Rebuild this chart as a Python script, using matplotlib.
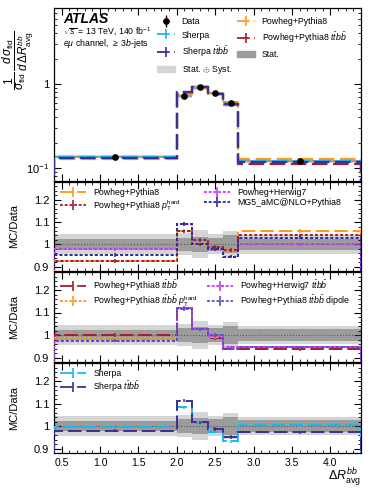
#!/usr/bin/env python3
"""
Delta R_avg^bb unfolded distribution with MC/Data ratio panels
"""
import numpy as np
import matplotlib
matplotlib.use('Agg')
import matplotlib.pyplot as plt
from matplotlib.lines import Line2D
from matplotlib.patches import Patch
from matplotlib.ticker import MultipleLocator, FixedLocator, NullFormatter, LogLocator

plt.rcParams['font.family'] = ['Liberation Sans', 'DejaVu Sans']
plt.rcParams['mathtext.fontset'] = 'custom'
plt.rcParams['mathtext.rm'] = 'Liberation Sans'
plt.rcParams['mathtext.it'] = 'Liberation Sans:italic'
plt.rcParams['mathtext.bf'] = 'Liberation Sans:bold'

# bins and data
edges = [0.4, 2.0, 2.2, 2.4, 2.6, 2.8, 4.4]
centers = [1.2, 2.1, 2.3, 2.5, 2.7, 3.6]
data = [0.136, 0.72, 0.91, 0.775, 0.60, 0.121]
data_err = [0.004, 0.02, 0.02, 0.02, 0.02, 0.004]
unc_tot = [0.045, 0.05, 0.063, 0.045, 0.058, 0.042]   # stat (+) syst, relative
unc_stat = [0.024, 0.03, 0.035, 0.03, 0.04, 0.025]     # stat only, relative

# main panel predictions
main_pp8 = [0.127, 0.765, 0.905, 0.765, 0.585, 0.128]
main_pp8_ttbb = [0.136, 0.805, 0.93, 0.76, 0.565, 0.113]
main_sherpa = [0.136, 0.78, 0.92, 0.755, 0.56, 0.122]
main_sherpa_ttbb = [0.133, 0.80, 0.925, 0.765, 0.57, 0.118]

# ratio panel 1
r_pp8 = [0.925, 1.06, 0.995, 0.98, 0.975, 1.06]
r_pp8_pthard = [0.925, 1.058, 1.02, 0.99, 0.975, 1.04]
r_ph7 = [0.977, 1.09, 1.0, 0.98, 0.945, 1.0]
r_mg5 = [0.953, 1.09, 1.0, 0.98, 0.945, 1.03]

# ratio panel 2
r_pp8_ttbb = [1.0, 1.12, 1.025, 0.985, 0.94, 0.937]
r_pp8_ttbb_pthard = [0.985, 1.12, 1.025, 0.99, 0.945, 0.945]
r_ph7_ttbb = [0.975, 1.12, 1.025, 0.995, 0.945, 0.945]
r_pp8_ttbb_dipole = [0.975, 1.115, 1.025, 1.0, 0.94, 0.945]

# ratio panel 3
r_sherpa = [0.997, 1.083, 1.013, 0.975, 0.932, 1.003]
r_sherpa_ttbb = [0.98, 1.113, 1.016, 0.987, 0.95, 0.972]

C_ORANGE = '#ff9a1a'
C_RED = '#a51c30'
C_CYAN = '#19b8f5'
C_NAVY = '#3d2f92'
C_MAG = '#c639ff'
C_SLATE = '#5a4fcf'
C_DOT_NAVY = '#2b2b9a'
LONG = (0, (7, 2.5))
DOT = (0, (1.6, 1.0))

TTBB = r'$t\bar{t}b\bar{b}$'

W, H = 374, 490
fig = plt.figure(figsize=(W / 100, H / 100), dpi=100)


def box(top, bottom):
    return [54 / W, 1 - bottom / H, (361 - 54) / W, (bottom - top) / H]


ax0 = fig.add_axes(box(8, 181))
ax1 = fig.add_axes(box(182, 271))
ax2 = fig.add_axes(box(272, 362))
ax3 = fig.add_axes(box(363, 453))


def style_x(ax, labels):
    ax.set_xlim(edges[0], edges[-1])
    ax.xaxis.set_major_locator(MultipleLocator(0.5))
    ax.xaxis.set_minor_locator(MultipleLocator(0.1))
    ax.tick_params(which='both', direction='in', top=True, right=True, labelsize=7.5)
    ax.tick_params(which='major', length=5, width=0.8)
    ax.tick_params(which='minor', length=2.5, width=0.6)
    if not labels:
        ax.xaxis.set_major_formatter(NullFormatter())
    for s in ax.spines.values():
        s.set_linewidth(0.9)


def bands(ax, ref):
    e = np.array(ref)
    tot = np.array(unc_tot)
    st = np.array(unc_stat)
    ax.stairs(e * (1 + tot), edges, baseline=e * (1 - tot), fill=True,
              color='#d5d5d5', lw=0, zorder=1)
    ax.stairs(e * (1 + st), edges, baseline=e * (1 - st), fill=True,
              color='#9c9c9c', lw=0, zorder=1.5)


def mc(ax, vals, color, ls, lw=1.4, err=0.006, scale=None):
    ax.stairs(vals, edges, color=color, ls=ls, lw=lw, zorder=3)
    v = np.array(vals)
    e = err * (v if scale else 1)
    ax.errorbar(centers, vals, yerr=e, fmt='none', ecolor=color, elinewidth=1.1, zorder=3)


def handle(color, ls):
    return (Line2D([], [], color=color, ls=ls, lw=1.3),
            Line2D([], [], color=color, marker='|', ls='none', ms=7, mew=1.2))


# main panel
bands(ax0, data)
mc(ax0, main_pp8, C_ORANGE, LONG, lw=1.6, err=0.01, scale=True)
mc(ax0, main_pp8_ttbb, C_RED, LONG, lw=1.6, err=0.01, scale=True)
mc(ax0, main_sherpa, C_CYAN, LONG, lw=1.6, err=0.01, scale=True)
mc(ax0, main_sherpa_ttbb, C_NAVY, LONG, lw=1.6, err=0.01, scale=True)
ax0.errorbar(centers, data, yerr=data_err, fmt='o', color='black', ms=3.8,
             elinewidth=1, zorder=5)
ax0.set_yscale('log')
ax0.set_ylim(0.07, 8)
style_x(ax0, False)
ax0.yaxis.set_major_locator(FixedLocator([0.1, 1]))
ax0.yaxis.set_major_formatter(plt.FuncFormatter(lambda v, p: '1' if v == 1 else r'$10^{-1}$'))
ax0.yaxis.set_minor_locator(LogLocator(base=10, subs=np.arange(2, 10)))
ax0.yaxis.set_minor_formatter(NullFormatter())
ax0.tick_params(axis='y', which='major', labelsize=8)
ax0.set_ylabel(r'$\dfrac{1}{\sigma_{\rm fid}}\,\dfrac{d\,\sigma_{\rm fid}}{d\,\Delta R^{bb}_{\rm avg}}$',
               fontsize=8.5)
ax0.yaxis.set_label_coords(-0.06, 0.7)

ax0.text(0.03, 0.975, 'ATLAS', transform=ax0.transAxes, fontsize=10,
         fontweight='bold', fontstyle='italic', va='top')
ax0.text(0.03, 0.862, r'$\sqrt{s}$ = 13 TeV, 140 fb$^{-1}$', transform=ax0.transAxes,
         fontsize=6.3, va='center')
ax0.text(0.03, 0.795, r'$e\mu$ channel, $\geq$ 3$b$-jets', transform=ax0.transAxes,
         fontsize=6.3, va='center')

h_data = (Line2D([], [], color='black', marker='o', ls='none', ms=3.8),
          Line2D([], [], color='black', marker='|', ls='none', ms=8, mew=1))
main_handles = [h_data, handle(C_CYAN, LONG), handle(C_NAVY, LONG),
                Patch(color='#d5d5d5'),
                handle(C_ORANGE, LONG), handle(C_RED, LONG), Patch(color='#9c9c9c')]
main_labels = ['Data', 'Sherpa', 'Sherpa ' + TTBB, r'Stat. $\oplus$ Syst.',
               'Powheg+Pythia8', 'Powheg+Pythia8 ' + TTBB, 'Stat.']
ax0.legend(main_handles, main_labels, ncol=2, loc='upper left',
           bbox_to_anchor=(0.31, 0.995), fontsize=6.3, frameon=False,
           handlelength=2.0, columnspacing=0.6, labelspacing=0.55)

# ratio panels
ratio_sets = [
    (ax1, 2.6, [(r_pp8, C_ORANGE, LONG, 'Powheg+Pythia8'),
                (r_pp8_pthard, C_RED, DOT, r'Powheg+Pythia8 $p_{\rm T}^{\rm hard}$'),
                (r_ph7, C_MAG, DOT, 'Powheg+Herwig7'),
                (r_mg5, C_DOT_NAVY, DOT, 'MG5_aMC@NLO+Pythia8')]),
    (ax2, 1.0, [(r_pp8_ttbb, C_RED, LONG, 'Powheg+Pythia8 ' + TTBB),
                (r_pp8_ttbb_pthard, C_ORANGE, DOT, 'Powheg+Pythia8 ' + TTBB + r' $p_{\rm T}^{\rm hard}$'),
                (r_ph7_ttbb, C_MAG, DOT, 'Powheg+Herwig7 ' + TTBB),
                (r_pp8_ttbb_dipole, C_SLATE, DOT, 'Powheg+Pythia8 ' + TTBB + ' dipole')]),
    (ax3, 1.0, [(r_sherpa, C_CYAN, LONG, 'Sherpa'),
                (r_sherpa_ttbb, C_NAVY, LONG, 'Sherpa ' + TTBB)]),
]

for ax, colsp, series in ratio_sets:
    bands(ax, np.ones(len(centers)))
    ax.axhline(1, color='#555555', ls=':', lw=0.8, zorder=2)
    hs, ls_ = [], []
    for vals, col, ls, lab in series:
        mc(ax, vals, col, ls, lw=1.4, err=0.008)
        hs.append(handle(col, ls))
        ls_.append(lab)
    ax.set_ylim(0.88, 1.28)
    style_x(ax, ax is ax3)
    ax.yaxis.set_major_locator(FixedLocator([0.9, 1.0, 1.1, 1.2]))
    ax.yaxis.set_major_formatter(plt.FuncFormatter(lambda v, p: '1' if abs(v - 1) < 1e-6 else f'{v:.1f}'))
    ax.yaxis.set_minor_locator(MultipleLocator(0.02))
    ax.tick_params(axis='y', which='major', labelsize=8)
    ax.set_ylabel('MC/Data', fontsize=8)
    ax.yaxis.set_label_coords(-0.115, 0.5)
    ncol = 2 if len(series) > 2 else 1
    ax.legend(hs, ls_, ncol=ncol, loc='upper left', fontsize=6.3, frameon=False,
              handlelength=3.0, columnspacing=colsp, labelspacing=0.1,
              borderaxespad=0.3)

ax3.set_xlabel(r'$\Delta R^{bb}_{\rm avg}$', fontsize=9, loc='right', labelpad=-1)

fig.savefig('out.png', dpi=100)
